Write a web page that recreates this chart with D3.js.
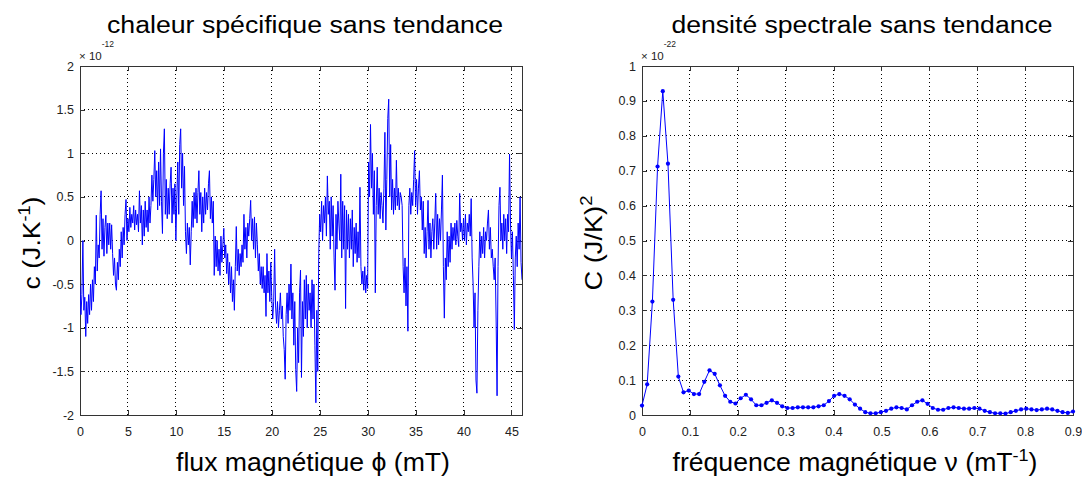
<!DOCTYPE html>
<html><head><meta charset="utf-8">
<script src="https://cdn.jsdelivr.net/npm/d3@7"></script>
<style>
body{margin:0;background:#fff}
text{font-family:"Liberation Sans",Arial,Helvetica,sans-serif}
</style>
</head><body>
<svg id="c" width="1082" height="480" xmlns="http://www.w3.org/2000/svg"></svg>
<script>
// ---------- data : left panel (detrended specific heat, x10^-12 J/K) ----------
const fluxStep = 0.1; // mT between samples
const heatCapacity = [
 -0.52,-0.85,-0.62,0.0,-0.8,-0.65,-1.1,-0.7,-0.95,-0.62,
 -0.85,-0.5,-0.8,-0.45,-0.7,-0.3,-0.5,0.29,-0.35,-0.05,
 -0.2,0.3,0.57,-0.1,0.25,-0.18,0.15,0.29,-0.15,0.2,
 -0.05,0.2,-0.1,0.18,-0.15,-0.4,-0.2,-0.5,-0.57,-0.25,
 -0.45,-0.1,-0.3,0.1,-0.2,0.15,-0.05,0.3,0.47,0.0,
 0.25,0.1,0.38,0.15,0.3,0.2,0.4,0.12,0.35,0.18,
 0.3,0.1,0.57,0.2,0.4,-0.05,0.35,0.05,0.45,0.15,
 0.35,0.1,0.5,0.2,0.4,0.75,0.45,0.7,1.03,0.5,
 0.8,0.35,0.9,0.4,1.05,0.45,0.08,1.0,1.28,0.3,
 0.7,0.25,0.6,0.3,0.65,0.84,0.2,0.6,0.3,0.65,
 0.0,0.5,0.9,0.3,1.1,1.28,0.6,1.0,0.4,0.85,
 0.1,-0.15,0.2,-0.05,0.15,-0.28,0.1,0.45,0.15,0.55,
 0.25,0.6,0.2,0.55,0.8,0.3,0.55,0.1,0.5,0.2,
 0.6,0.3,0.55,0.35,0.65,0.8,0.25,0.5,0.2,0.45,
 -0.4,0.05,-0.3,0.0,-0.35,-0.1,-0.4,0.05,-0.25,-0.05,
 0.14,-0.2,-0.05,-0.38,-0.15,-0.5,-0.25,-0.6,-0.3,-0.7,
 -0.45,-0.8,-0.3,0.16,-0.35,-0.1,-0.4,-0.15,-0.3,-0.05,
 -0.25,0.3,-0.1,0.15,-0.2,0.2,0.05,0.25,0.46,0.0,
 0.25,-0.1,0.27,-0.2,0.2,-0.05,-0.35,-0.15,-0.5,-0.3,
 -0.55,-0.3,-0.6,-0.4,-0.87,-0.15,-0.6,-0.35,-0.7,-0.25,
 -0.65,-0.9,-0.7,-0.1,-0.75,-0.95,-0.7,-1.0,-0.8,-0.6,
 -0.9,-0.75,-1.1,-1.25,-1.59,-0.85,-0.6,-0.95,-0.5,-0.8,
 -0.27,-0.9,-0.6,-1.2,-0.7,-1.48,-1.73,-1.0,-1.4,-0.6,
 -0.34,-1.57,-0.7,-1.1,-0.45,-0.9,-0.4,-1.0,-0.5,-0.8,
 -0.6,-1.0,-0.45,-0.9,-0.5,-1.2,-1.86,-0.8,-1.5,-0.15,
 0.3,0.1,0.45,0.0,0.4,0.2,0.5,0.05,0.74,0.3,
 0.45,-0.1,0.5,0.05,0.4,-0.2,-0.57,0.3,-0.1,0.45,
 0.2,0.0,0.76,-0.2,0.45,-0.1,0.4,-0.78,0.35,-0.1,
 0.3,-0.2,0.25,-0.1,0.35,-0.3,0.15,-0.15,0.2,-0.25,
 0.1,-0.2,0.61,-0.3,-0.5,-0.35,-0.57,-0.3,-0.6,-0.4,
 -0.55,0.9,0.5,1.33,0.6,1.0,0.3,0.8,-0.6,0.4,
 0.84,0.3,0.6,0.25,0.55,0.4,0.2,0.6,1.24,0.12,
 0.7,1.4,1.62,0.5,1.1,0.35,0.7,0.3,0.6,0.35,
 0.92,0.4,0.6,0.35,0.55,0.5,0.4,-0.3,-0.6,-0.2,
 -0.75,-0.3,-1.04,0.4,0.6,0.3,0.55,0.4,0.7,1.03,
 0.4,0.7,0.3,0.6,0.8,0.35,0.5,0.12,0.45,-0.15,
 0.15,-0.2,0.1,0.46,-0.1,0.2,-0.2,0.1,0.25,-0.1,
 0.2,0.54,-0.1,0.3,-0.05,0.25,0.0,0.35,0.75,-0.3,
 -0.89,-0.2,-0.45,0.1,-0.3,0.05,-0.25,0.2,-0.1,0.15,
 0.0,0.2,-0.05,0.23,0.05,-0.07,0.54,0.1,0.2,0.0,
 0.25,0.0,0.3,-0.05,0.2,0.1,0.3,0.05,0.48,-0.2,
 -0.5,-1.0,-0.6,-1.6,-1.75,-0.8,-0.3,0.1,-0.2,0.05,
 -0.15,0.15,-0.2,0.1,0.0,0.2,0.35,-0.1,0.15,-0.2,
 -0.1,-0.3,-0.45,-0.2,-0.9,-1.78,-0.3,0.4,0.61,0.0,
 0.2,-0.1,0.3,0.0,0.25,-0.15,0.3,0.1,0.99,0.2,
 -0.2,0.1,-0.4,-1.02,-0.2,0.05,-0.3,0.2,-0.1,0.5,
 -0.25,-0.45
];
const fluxTicks = [0,5,10,15,20,25,30,35,40,45];
const heatTicks = [-2,-1.5,-1,-0.5,0,0.5,1,1.5,2];

// ---------- data : right panel (spectral density, x10^-22 (J/K)^2) ----------
const frequency = [
 0,0.0108,0.0217,0.0325,0.0434,0.0542,0.0651,0.0759,0.0867,0.0976,
 0.1084,0.1193,0.1301,0.1410,0.1518,0.1627,0.1735,0.1843,0.1952,0.2060,
 0.2169,0.2277,0.2386,0.2494,0.2602,0.2711,0.2819,0.2928,0.3036,0.3145,
 0.3253,0.3361,0.3470,0.3578,0.3687,0.3795,0.3904,0.4012,0.4120,0.4229,
 0.4337,0.4446,0.4554,0.4663,0.4771,0.4880,0.4988,0.5096,0.5205,0.5313,
 0.5422,0.5530,0.5639,0.5747,0.5855,0.5964,0.6072,0.6181,0.6289,0.6398,
 0.6506,0.6614,0.6723,0.6831,0.6940,0.7048,0.7157,0.7265,0.7373,0.7482,
 0.7590,0.7699,0.7807,0.7916,0.8024,0.8133,0.8241,0.8349,0.8458,0.8566,
 0.8675,0.8783,0.8892,0.9000
];
const spectralDensity = [
 0.027,0.088,0.325,0.712,0.928,0.72,0.33,0.11,0.065,0.07,
 0.06,0.06,0.095,0.128,0.118,0.085,0.055,0.038,0.033,0.048,
 0.058,0.045,0.028,0.028,0.035,0.042,0.035,0.025,0.02,0.02,
 0.022,0.022,0.022,0.022,0.025,0.028,0.04,0.055,0.06,0.055,
 0.045,0.03,0.018,0.008,0.005,0.005,0.008,0.012,0.018,0.022,
 0.02,0.016,0.028,0.038,0.042,0.032,0.02,0.015,0.015,0.02,
 0.022,0.02,0.018,0.018,0.02,0.018,0.012,0.008,0.005,0.005,
 0.004,0.008,0.012,0.016,0.018,0.016,0.014,0.016,0.018,0.016,
 0.012,0.008,0.006,0.01
];
const freqTicks = [0,0.1,0.2,0.3,0.4,0.5,0.6,0.7,0.8,0.9];
const densityTicks = [0,0.1,0.2,0.3,0.4,0.5,0.6,0.7,0.8,0.9,1];

// ---------- drawing ----------
const svg = d3.select('#c');
svg.append('rect').attr('width',1082).attr('height',480).attr('fill','#fff');

function frame(box, x, y, xt, yt, id) {
  const w = box.r - box.l, h = box.b - box.t;
  const g = svg.append('g').attr('transform', `translate(${box.l},${box.t})`);
  const grid = g.append('g').attr('stroke','#000').attr('stroke-width',1)
     .attr('stroke-dasharray','1,3').attr('shape-rendering','crispEdges');
  grid.selectAll('line.vx').data(xt).join('line')
     .attr('x1',d=>x(d)).attr('x2',d=>x(d)).attr('y1',0).attr('y2',h);
  grid.selectAll('line.hy').data(yt).join('line')
     .attr('y1',d=>y(d)).attr('y2',d=>y(d)).attr('x1',0).attr('x2',w);
  const fmt = d => String(d);
  const style = sel => {
    sel.select('.domain').remove();
    sel.selectAll('.tick line').attr('stroke','#333').attr('shape-rendering','crispEdges');
    sel.selectAll('.tick text').attr('font-size','12.5px').attr('fill','#222')
       .style('font-family','"Liberation Sans",Arial,sans-serif');
  };
  g.append('g').attr('transform',`translate(0,${h})`)
    .call(d3.axisBottom(x).tickValues(xt).tickSizeInner(-5).tickSizeOuter(0).tickPadding(12).tickFormat(fmt)).call(style);
  g.append('g')
    .call(d3.axisTop(x).tickValues(xt).tickSizeInner(-5).tickSizeOuter(0).tickFormat('')).call(style);
  g.append('g')
    .call(d3.axisLeft(y).tickValues(yt).tickSizeInner(-5).tickSizeOuter(0).tickPadding(6).tickFormat(fmt)).call(style);
  g.append('g').attr('transform',`translate(${w},0)`)
    .call(d3.axisRight(y).tickValues(yt).tickSizeInner(-5).tickSizeOuter(0).tickFormat('')).call(style);
  g.append('rect').attr('width',w).attr('height',h).attr('fill','none')
    .attr('stroke','#333').attr('stroke-width',1).attr('shape-rendering','crispEdges');
  // clip rect in the group's local coordinates
  g.append('clipPath').attr('id',id).append('rect')
    .attr('x',0).attr('y',0).attr('width',w).attr('height',h);
  return g;
}

function multiplier(x, base, exp) {
  const t = svg.append('text').attr('x',x).attr('y',base).attr('font-size','11.5px').attr('fill','#222');
  t.append('tspan').text('\u00d7 10');
  t.append('tspan').attr('dy',-13).attr('font-size','8.5px').text(exp);
}

function label(txt, sup, after, opts) {
  const t = svg.append('text').attr('font-size',opts.size+'px').attr('fill','#000')
    .attr('text-anchor','middle')
    .attr('textLength',opts.len).attr('lengthAdjust','spacingAndGlyphs');
  if (opts.rot) t.attr('transform',`translate(${opts.x},${opts.y}) rotate(-90)`);
  else t.attr('x',opts.x).attr('y',opts.y);
  t.append('tspan').text(txt);
  if (sup) {
    t.append('tspan').attr('dy',-opts.size*0.42).attr('font-size',(opts.size*0.68)+'px').text(sup);
    t.append('tspan').attr('dy',opts.size*0.42).text(after);
  }
  return t;
}

// Left panel
const boxL = {l:80, r:522, t:66, b:415};
const xL = d3.scaleLinear().domain([0,46.1]).range([0, boxL.r-boxL.l]);
const yL = d3.scaleLinear().domain([-2,2]).range([boxL.b-boxL.t, 0]);
const gL = frame(boxL, xL, yL, fluxTicks, heatTicks, 'clipL');
gL.append('path').attr('clip-path','url(#clipL)')
  .datum(heatCapacity)
  .attr('d', d3.line().x((d,i)=>xL(i*fluxStep)).y(d=>yL(d)))
  .attr('fill','none').attr('stroke','#0000ff').attr('stroke-width',1);

// Right panel
const boxR = {l:642, r:1073, t:66, b:415};
const xR = d3.scaleLinear().domain([0,0.9]).range([0, boxR.r-boxR.l]);
const yR = d3.scaleLinear().domain([0,1]).range([boxR.b-boxR.t, 0]);
const gR = frame(boxR, xR, yR, freqTicks, densityTicks, 'clipR');
const pts = frequency.map((f,i)=>[f, spectralDensity[i]]);
gR.append('path').datum(pts)
  .attr('d', d3.line().x(d=>xR(d[0])).y(d=>yR(d[1])))
  .attr('fill','none').attr('stroke','#0000ff').attr('stroke-width',1);
gR.selectAll('circle.pt').data(pts).join('circle').attr('class','pt')
  .attr('cx',d=>xR(d[0])).attr('cy',d=>yR(d[1])).attr('r',2.1).attr('fill','#0000ff');

// texts
multiplier(79, 60, '-12');
multiplier(641, 60, '-22');

label('chaleur sp\u00e9cifique sans tendance', null, null, {x:305, y:33, size:23, len:396});
label('densit\u00e9 spectrale sans tendance', null, null, {x:862, y:33, size:23, len:381});
label('flux magn\u00e9tique \u03d5 (mT)', null, null, {x:313, y:471, size:25, len:274});
label('fr\u00e9quence magn\u00e9tique \u03bd (mT', '-1', ')', {x:855, y:471, size:25, len:365});
label('c (J.K', '-1', ')', {x:40, y:243, size:23, len:93, rot:true});
label('C (J/K)', '2', '', {x:602, y:243, size:23, len:95, rot:true});
</script>
</body></html>
